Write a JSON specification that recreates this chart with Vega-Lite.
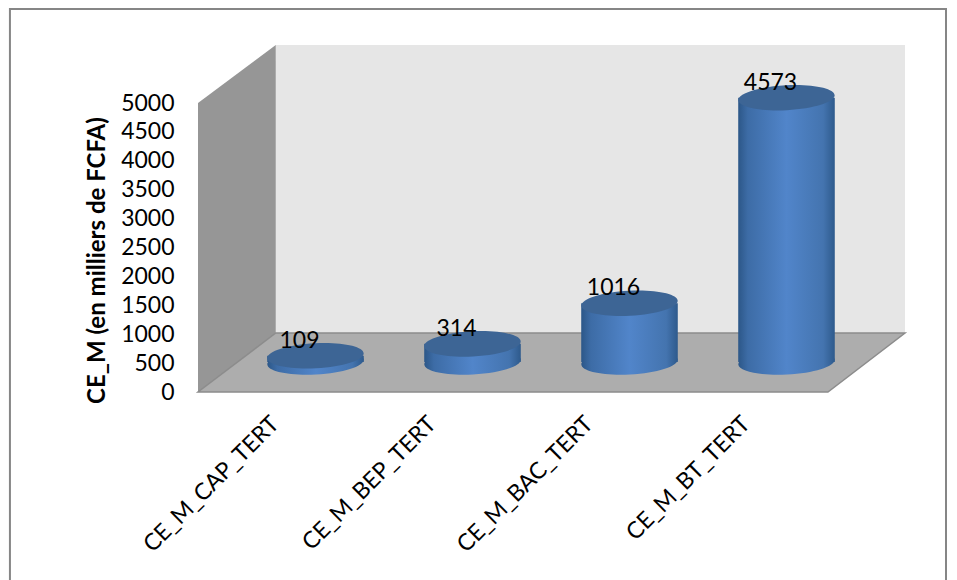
{
"$schema":"https://vega.github.io/schema/vega-lite/v6.json",
"width":957,"height":580,"padding":0,"autosize":{"type":"none"},
"background":"white",
"config":{"view":{"stroke":null},"font":"Lato"},
"datasets":{
"cylinders":[
{"categorie":"CE_M_CAP_TERT","valeur":109},
{"categorie":"CE_M_BEP_TERT","valeur":314},
{"categorie":"CE_M_BAC_TERT","valeur":1016},
{"categorie":"CE_M_BT_TERT","valeur":4573}],
"side":[{"p":0,"low":0,"high":5000},{"p":11,"low":1021,"high":6003}],
"floor":[{"p":0,"low":0,"high":0},{"p":11,"low":0,"high":1021},{"p":89.1,"low":0,"high":1021},{"p":100,"low":1021,"high":1021}]
},
"layer":[
{"data":{"values":[{"a":-26.6,"b":105.8,"low":-3599,"high":6626}]},
"mark":{"type":"rect","fill":"transparent","stroke":"#868686","strokeWidth":2},
"encoding":{
"x":{"field":"a","type":"quantitative","scale":{"domain":[0,100],"range":[198,905],"nice":false,"zero":false},"axis":null},
"x2":{"field":"b"},
"y":{"field":"low","type":"quantitative","scale":{"domain":[0,5000],"range":[392,103],"nice":false,"zero":false},
"axis":{"zindex":1,"format":"d","values":[0,500,1000,1500,2000,2500,3000,3500,4000,4500,5000],"orient":"left","offset":-174,"domain":false,"ticks":false,"grid":false,"labelPadding":0,"labelFontSize":23,"labelColor":"#000000","labelFont":"Lato","title":"CE_M (en milliers de FCFA)","titleFontSize":24,"titleFontWeight":"bold","titleFont":"Lato","titleColor":"#000000","titleAngle":-90,"titleX":-77,"titleY":260,"titleAlign":"center","titleBaseline":"middle"}},
"y2":{"field":"high"}}},
{"data":{"values":[{"a":11,"b":100,"low":1021,"high":6003}]},
"mark":{"type":"rect","fill":"#E6E6E6"},
"encoding":{"x":{"field":"a","type":"quantitative","scale":{"domain":[0,100],"range":[198,905],"nice":false,"zero":false},"axis":null},"x2":{"field":"b"},"y":{"field":"low","type":"quantitative","scale":{"domain":[0,5000],"range":[392,103],"nice":false,"zero":false},"axis":null},"y2":{"field":"high"}}},
{"data":{"name":"side"},
"mark":{"type":"area","fill":"#969696","orient":"vertical"},
"encoding":{"x":{"field":"p","type":"quantitative","scale":{"domain":[0,100],"range":[198,905],"nice":false,"zero":false},"axis":null},"y":{"field":"low","type":"quantitative","stack":null,"scale":{"domain":[0,5000],"range":[392,103],"nice":false,"zero":false},"axis":null},"y2":{"field":"high"}}},
{"data":{"name":"floor"},
"mark":{"type":"area","fill":"#ADADAD","orient":"vertical","stroke":"#8C8C8C","strokeWidth":1.5},
"encoding":{"x":{"field":"p","type":"quantitative","scale":{"domain":[0,100],"range":[198,905],"nice":false,"zero":false},"axis":null},"y":{"field":"low","type":"quantitative","stack":null,"scale":{"domain":[0,5000],"range":[392,103],"nice":false,"zero":false},"axis":null},"y2":{"field":"high"}}},
{"data":{"name":"cylinders"},
"mark":{"type":"point","filled":true,"opacity":1,"shape":"M-1 0A1 0.26 0 1 1 1 0A1 0.26 0 1 1 -1 0Z","size":9312,"angle":-3,"fill":{"gradient":"linear","x1":0,"x2":1,"y1":0,"y2":0,"stops":[{"offset":0,"color":"#2C5788"},{"offset":0.1,"color":"#3D6CA6"},{"offset":0.5,"color":"#5185CA"},{"offset":0.88,"color":"#4474AF"},{"offset":1,"color":"#2E5A8C"}]}},
"encoding":{
"x":{"field":"categorie","type":"nominal","sort":null,
"scale":{"type":"band","domain":["CE_M_CAP_TERT","CE_M_BEP_TERT","CE_M_BAC_TERT","CE_M_BT_TERT"],"range":[237,865],"paddingInner":0.385,"paddingOuter":0.1925},
"axis":{"zindex":1,"orient":"bottom","offset":-160,"title":null,"domain":false,"ticks":false,"grid":false,"labelAngle":-45,"labelAlign":"right","labelBaseline":"middle","labelPadding":0,"labelOffset":-40,"labelFontSize":23,"labelColor":"#000000","labelFont":"Lato","labelLimit":400}},
"y":{"datum":0,"type":"quantitative","scale":{"domain":[0,5000],"range":[362,73],"nice":false,"zero":false},"axis":null}}},
{"data":{"name":"cylinders"},
"mark":{"type":"bar","fill":{"gradient":"linear","x1":0,"x2":1,"y1":0,"y2":0,"stops":[{"offset":0,"color":"#2C5788"},{"offset":0.1,"color":"#3D6CA6"},{"offset":0.5,"color":"#5185CA"},{"offset":0.88,"color":"#4474AF"},{"offset":1,"color":"#2E5A8C"}]}},
"encoding":{
"x":{"field":"categorie","type":"nominal","sort":null,"scale":{"type":"band","domain":["CE_M_CAP_TERT","CE_M_BEP_TERT","CE_M_BAC_TERT","CE_M_BT_TERT"],"range":[237,865],"paddingInner":0.385,"paddingOuter":0.1925},"axis":null},
"y":{"field":"valeur","type":"quantitative","stack":null,"scale":{"domain":[0,5000],"range":[362,73],"nice":false,"zero":false},"axis":null}}},
{"data":{"name":"cylinders"},
"mark":{"type":"point","filled":true,"opacity":1,"shape":"M-1 0A1 0.26 0 1 1 1 0A1 0.26 0 1 1 -1 0Z","size":9312,"angle":-3,"fill":"#3D6595"},
"encoding":{
"x":{"field":"categorie","type":"nominal","sort":null,"scale":{"type":"band","domain":["CE_M_CAP_TERT","CE_M_BEP_TERT","CE_M_BAC_TERT","CE_M_BT_TERT"],"range":[237,865],"paddingInner":0.385,"paddingOuter":0.1925},"axis":null},
"y":{"field":"valeur","type":"quantitative","scale":{"domain":[0,5000],"range":[362,73],"nice":false,"zero":false},"axis":null}}},
{"data":{"name":"cylinders"},
"mark":{"type":"text","fontSize":23,"font":"Lato","color":"#000000","dx":-16,"dy":-15,"align":"center","baseline":"middle"},
"encoding":{
"x":{"field":"categorie","type":"nominal","sort":null,"scale":{"type":"band","domain":["CE_M_CAP_TERT","CE_M_BEP_TERT","CE_M_BAC_TERT","CE_M_BT_TERT"],"range":[237,865],"paddingInner":0.385,"paddingOuter":0.1925},"axis":null},
"y":{"field":"valeur","type":"quantitative","scale":{"domain":[0,5000],"range":[362,73],"nice":false,"zero":false},"axis":null},"text":{"field":"valeur","type":"quantitative"}}}
],
"resolve":{"scale":{"x":"independent","y":"independent"},"axis":{"x":"independent","y":"independent"}}
}
